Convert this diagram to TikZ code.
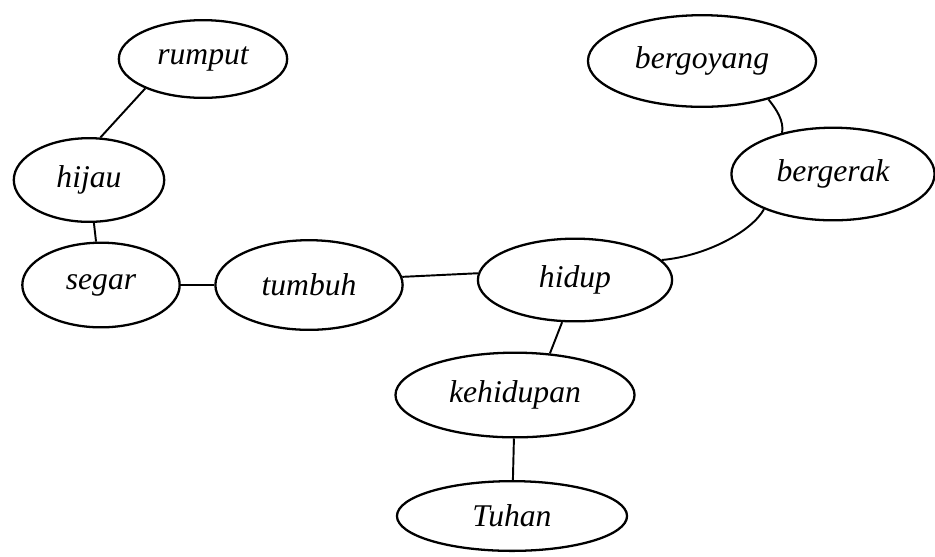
\documentclass[tikz,border=0pt]{standalone}
\usepackage{fontspec}
\setmainfont{Liberation Serif}
\usetikzlibrary{shapes.geometric,positioning}

\begin{document}
\begin{tikzpicture}[x=0.02cm,y=-0.02cm,
    konsep/.style 2 args={ellipse,draw,line width=1.3pt,inner sep=0pt,
      minimum width=#1*0.5669pt,minimum height=#2*0.5669pt,
      font=\itshape\fontsize{18}{20}\selectfont},
    hubung/.style={line width=1.1pt}]
    \useasboundingbox (0,0) rectangle (935,556);
    \node[konsep={169}{78}] (rumput) at (203,59) {rumput};
    \node[konsep={151}{84}] (hijau) at (89,180) {hijau};
    \node[konsep={158}{85}] (segar) at (101,285) {segar};
    \node[konsep={188}{90}] (tumbuh) at (309,285) {tumbuh};
    \node[konsep={195}{83}] (hidup) at (575,280) {hidup};
    \node[konsep={240}{85}] (kehidupan) at (515,395) {kehidupan};
    \node[konsep={231}{70}] (tuhan) at (512,516) {Tuhan};
    \node[konsep={229}{92}] (bergoyang) at (702,61) {bergoyang};
    \node[konsep={204}{93}] (bergerak) at (833,174) {bergerak};
    % garis penghubung
    \draw[hubung] (rumput.207) -- (hijau.75);
    \draw[hubung] (hijau) -- (segar);
    \draw[hubung] (segar) -- (tumbuh);
    \draw[hubung] (tumbuh.5) -- (hidup.176);
    \draw[hubung] (hidup.13) .. controls +(45,-4) and +(-12,22) .. (bergerak.207);
    \draw[hubung] (bergoyang.-30) .. controls +(8,10) and +(2,-12) .. (bergerak.141);
    \draw[hubung] (hidup.253) -- (kehidupan.50);
    \draw[hubung] (kehidupan) -- (tuhan);
\end{tikzpicture}
\end{document}
